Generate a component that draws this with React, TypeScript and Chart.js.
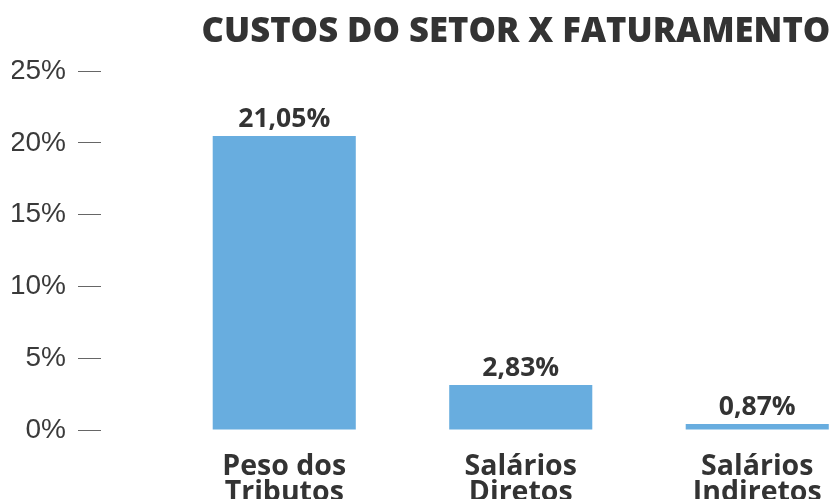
import React, { useEffect, useRef } from 'react';
import { Chart, registerables } from 'chart.js';

Chart.register(...registerables);

// ---- data ----
const chartTitle = 'CUSTOS DO SETOR X FATURAMENTO';
const categories = [
  ['Peso dos', 'Tributos'],
  ['Salários', 'Diretos'],
  ['Salários', 'Indiretos'],
];
// bar heights as drawn in the picture (percent)
const barHeights = [20.47, 3.13, 0.42];
// value labels printed above the bars
const valueLabels = ['21,05%', '2,83%', '0,87%'];
const yTickValues = [0, 5, 10, 15, 20, 25];

const BAR_COLOR = '#68ADDF';
const TEXT_DARK = '#333333';

const valueLabelPlugin = {
  id: 'valueLabelPlugin',
  afterDatasetsDraw(chart: any) {
    const ctx = chart.ctx;
    const meta = chart.getDatasetMeta(0);
    ctx.save();
    ctx.font = 'bold 26.5px "Open Sans"';
    ctx.fillStyle = TEXT_DARK;
    ctx.textAlign = 'center';
    ctx.textBaseline = 'alphabetic';
    meta.data.forEach((bar: any, i: number) => {
      ctx.fillText(valueLabels[i], bar.x, bar.y - 9);
    });
    ctx.restore();
  },
};

export default function App() {
  const canvasRef = useRef<HTMLCanvasElement | null>(null);

  useEffect(() => {
    const canvas = canvasRef.current;
    if (!canvas) return;
    const chart = new Chart(canvas, {
      type: 'bar',
      data: {
        labels: categories as any,
        datasets: [
          {
            data: barHeights,
            backgroundColor: BAR_COLOR,
            borderWidth: 0,
            barPercentage: 0.605,
            categoryPercentage: 1,
          },
        ],
      },
      options: {
        animation: false,
        responsive: false,
        devicePixelRatio: 1,
        layout: { padding: { left: 4, right: 0, top: 0, bottom: 18 } },
        plugins: {
          legend: { display: false },
          tooltip: { enabled: false },
          title: {
            display: true,
            text: chartTitle,
            color: TEXT_DARK,
            font: { family: 'Open Sans', size: 34.6, weight: 800, lineHeight: 1.2 },
            padding: { top: 3, bottom: 18.5 },
          },
        },
        scales: {
          x: {
            type: 'category',
            offset: true,
            grid: { display: false, drawTicks: false },
            border: { display: false },
            ticks: {
              color: TEXT_DARK,
              font: { family: 'Open Sans', size: 28.5, weight: 'bold', lineHeight: 0.9 },
              padding: 24,
              maxRotation: 0,
              autoSkip: false,
            },
            afterFit: (s: any) => {
              s.height = 80;
            },
          },
          y: {
            type: 'linear',
            position: 'left',
            weight: 10,
            min: 0,
            max: 25,
            afterBuildTicks: (s: any) => {
              s.ticks = yTickValues.map((v) => ({ value: v }));
            },
            ticks: {
              callback: (v: any) => v + '%',
              color: '#3a3a3a',
              font: { family: 'Liberation Sans', size: 28 },
              padding: 12,
            },
            grid: {
              display: true,
              drawOnChartArea: false,
              drawTicks: true,
              tickLength: 23,
              tickColor: '#666666',
              tickWidth: 1,
            },
            border: { display: false },
            afterFit: (s: any) => {
              s.width = 89;
            },
          },
          yGap: {
            type: 'linear',
            axis: 'y',
            position: 'left',
            weight: 0,
            min: 0,
            max: 25,
            grid: { display: false, drawTicks: false },
            border: { display: false },
            ticks: { display: false },
            afterFit: (s: any) => {
              s.width = 65;
            },
          },
          yRight: {
            type: 'linear',
            axis: 'y',
            position: 'right',
            min: 0,
            max: 25,
            grid: { display: false, drawTicks: false },
            border: { display: false },
            ticks: { display: false },
            afterFit: (s: any) => {
              s.width = 144.5;
            },
          },
        } as any,
      },
      plugins: [valueLabelPlugin],
    });
    return () => chart.destroy();
  }, []);

  return (
    <div style={{ position: 'fixed', left: 8, top: 8, width: 823, height: 491, overflow: 'hidden' }}>
      <canvas ref={canvasRef} width={1012} height={520} style={{ display: 'block', width: 1012, height: 520 }} />
    </div>
  );
}
